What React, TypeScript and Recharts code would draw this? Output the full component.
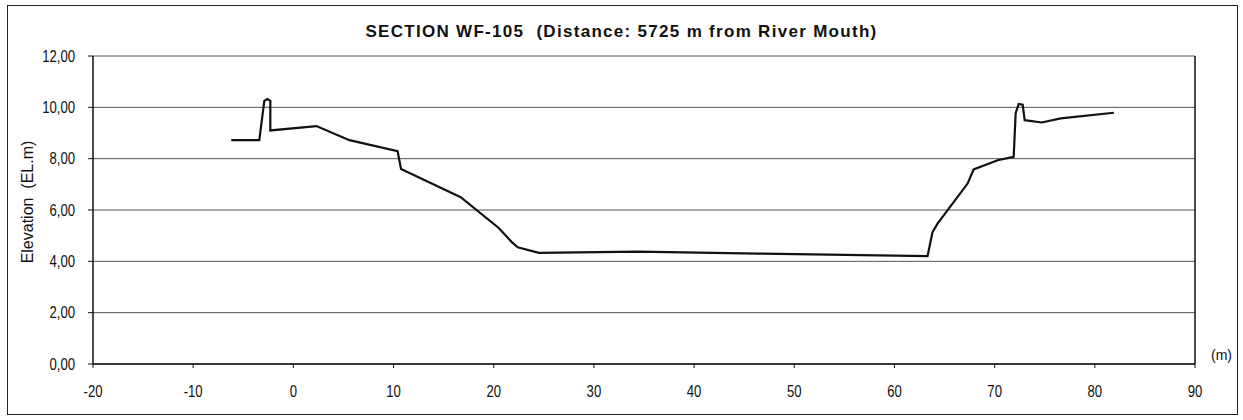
import React from 'react';
import { LineChart, Line, XAxis, YAxis, CartesianGrid, ReferenceLine } from 'recharts';

// cross-section survey points
const distances = [
  -6.2, -3.4, -2.9, -2.6, -2.3, -2.3, 2.3, 5.6, 10.4, 10.75, 16.7, 20.5, 21.8, 22.4, 24.5, 34.4, 46.4,
  63.3, 63.8, 64.3, 67.3, 67.9, 70.3, 71.9, 72.1, 72.4, 72.8, 73.0, 74.7, 76.6, 81.9,
];
const elevations = [
  8.72, 8.72, 10.25, 10.32, 10.25, 9.1, 9.27, 8.72, 8.29, 7.6, 6.5, 5.3, 4.75, 4.55, 4.33, 4.38, 4.3,
  4.2, 5.14, 5.47, 7.03, 7.58, 7.94, 8.07, 9.77, 10.13, 10.1, 9.5, 9.41, 9.57, 9.79,
];
const xTicks = [-20, -10, 0, 10, 20, 30, 40, 50, 60, 70, 80, 90];
const yTicks = [0, 2, 4, 6, 8, 10, 12];

const chartTitle = 'SECTION WF-105  (Distance: 5725 m from River Mouth)';
const yLabel = 'Elevation  (EL.m)';
const xUnit = '(m)';

const profile = distances.map((d, i) => ({ dist: d, elev: elevations[i] }));

const font = "'Liberation Sans', Arial, sans-serif";

const fmtElev = (v: number) => v.toFixed(2).replace('.', ',');

// the scanned labels are tall and narrow, so squeeze them horizontally
const XTick = (props: any) => {
  const { x, y, payload } = props;
  return (
    <g transform={`translate(${x},${y})`}>
      <text transform="scale(0.82,1)" textAnchor="middle" dy="0.71em" fill="#111" fontSize={16} fontFamily={font}>
        {payload.value}
      </text>
    </g>
  );
};

const YTick = (props: any) => {
  const { x, y, payload } = props;
  return (
    <g transform={`translate(${x},${y})`}>
      <text transform="scale(0.82,1)" textAnchor="end" dy="0.355em" fill="#111" fontSize={16} fontFamily={font}>
        {fmtElev(payload.value)}
      </text>
    </g>
  );
};

const App: React.FC = () => {
  return (
    <div style={{ position: 'absolute', left: 0, top: 0, width: 1243, height: 420, background: '#fff', fontFamily: font }}>
      <div
        style={{
          position: 'absolute', left: 7, top: 5, width: 1231, height: 410,
          border: '1.5px solid #222', boxSizing: 'border-box',
        }}
      />
      <div
        style={{
          position: 'absolute', left: 0, width: 1243, top: 22, textAlign: 'center',
          fontSize: 17, fontWeight: 'bold', letterSpacing: 1.3, color: '#111', whiteSpace: 'pre',
        }}
      >
        {chartTitle}
      </div>
      <div
        style={{
          position: 'absolute', left: 28, top: 202, transform: 'translate(-50%, -50%) rotate(-90deg)',
          fontSize: 16, color: '#111', whiteSpace: 'pre',
        }}
      >
        {yLabel}
      </div>
      <div style={{ position: 'absolute', left: 1211, top: 347, fontSize: 14, color: '#111' }}>{xUnit}</div>
      <div style={{ position: 'absolute', left: 0, top: 0 }}>
        <LineChart width={1243} height={420} data={profile} margin={{ top: 56, right: 48, bottom: 16, left: 33 }}>
          <CartesianGrid horizontal vertical={false} stroke="#555" strokeWidth={1} />
          <XAxis
            type="number"
            dataKey="dist"
            domain={[-20, 90]}
            ticks={xTicks}
            interval={0}
            height={40}
            tickSize={4}
            tickMargin={18}
            axisLine={{ stroke: '#111', strokeWidth: 1.5 }}
            tickLine={{ stroke: '#111' }}
            tick={XTick}
          />
          <YAxis
            type="number"
            domain={[0, 12]}
            ticks={yTicks}
            interval={0}
            width={60}
            tickSize={5}
            tickMargin={13}
            axisLine={{ stroke: '#111', strokeWidth: 1.5 }}
            tickLine={{ stroke: '#111' }}
            tick={YTick}
          />
          <ReferenceLine x={90} stroke="#111" strokeWidth={1.5} />
          <Line
            type="linear"
            dataKey="elev"
            stroke="#111"
            strokeWidth={2.2}
            dot={false}
            isAnimationActive={false}
          />
        </LineChart>
      </div>
    </div>
  );
};

export default App;
